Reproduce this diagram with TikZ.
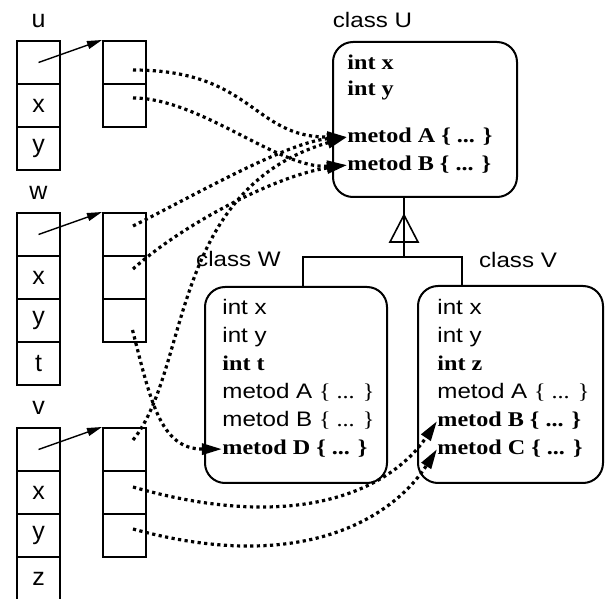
\documentclass[tikz,border=0pt]{standalone}
\usepackage{fontspec}
\setmainfont{Liberation Serif}[FakeStretch=1.15]
\setsansfont{Liberation Sans}[FakeStretch=1.15]
\newfontfamily\slotfont{Liberation Sans}
\usetikzlibrary{arrows.meta}
\newcommand{\bmem}[1]{{\rmfamily\bfseries #1}}
\newcommand{\bodydots}{{\rmfamily\{ ... \}}}
\begin{document}
\begin{tikzpicture}[x=0.5pt,y=-0.5pt,font=\sffamily\fontsize{10.5}{12}\selectfont,
  cell/.style={draw=black,line width=1pt,minimum width=21.5pt,minimum height=21.5pt,inner sep=0pt,font=\slotfont\fontsize{12.5}{15}\selectfont},
  var-name/.style={anchor=base,font=\slotfont\fontsize{12.5}{15}\selectfont},
  class-box/.style={draw=black,line width=1pt,rounded corners=10pt,inner sep=0pt},
  member/.style={anchor=base west,inner sep=0pt},
  pointer/.style={line width=0.7pt,-{Triangle[length=7.5pt,width=4pt]}},
  vlink/.style={line width=1.6pt,dash pattern=on 1.6pt off 1.7pt,-{Triangle[length=10pt,width=5.5pt]}},
  inherit/.style={line width=0.8pt}]
\useasboundingbox (0,0) rectangle (607,599);
\node[var-name] (u-name) at (38.5,28) {u};
\node[cell] (u-0) at (38.5,62.5) {};
\node[cell] (u-1) at (38.5,105.5) {x};
\node[cell] (u-2) at (38.5,148.5) {y};
\node[cell] (u-slot-0) at (124.5,62.5) {};
\node[cell] (u-slot-1) at (124.5,105.5) {};
\node[var-name] (w-name) at (38.5,200) {w};
\node[cell] (w-0) at (38.5,234.5) {};
\node[cell] (w-1) at (38.5,277.5) {x};
\node[cell] (w-2) at (38.5,320.5) {y};
\node[cell] (w-3) at (38.5,363.5) {t};
\node[cell] (w-slot-0) at (124.5,234.5) {};
\node[cell] (w-slot-1) at (124.5,277.5) {};
\node[cell] (w-slot-2) at (124.5,320.5) {};
\node[var-name] (v-name) at (38.5,415) {v};
\node[cell] (v-0) at (38.5,449.5) {};
\node[cell] (v-1) at (38.5,492.5) {x};
\node[cell] (v-2) at (38.5,535.5) {y};
\node[cell] (v-3) at (38.5,578.5) {z};
\node[cell] (v-slot-0) at (124.5,449.5) {};
\node[cell] (v-slot-1) at (124.5,492.5) {};
\node[cell] (v-slot-2) at (124.5,535.5) {};
\draw[pointer] (u-0.center) -- (u-slot-0.north west);
\draw[pointer] (w-0.center) -- (w-slot-0.north west);
\draw[pointer] (v-0.center) -- (v-slot-0.north west);
\node[anchor=base] (U-title) at (372.5,28) {class U};
\node[class-box,minimum width=92pt,minimum height=77.5pt] (U) at (425,119.5) {};
\node[member] (U-x) at (347,70) {\bmem{int x}};
\node[member] (U-y) at (347,96) {\bmem{int y}};
\node[member] (U-A) at (347,143) {\bmem{metod A \{ ... \}}};
\node[member] (U-B) at (347,171) {\bmem{metod B \{ ... \}}};
\node[anchor=base] (W-title) at (238.5,267) {class W};
\node[class-box,minimum width=91pt,minimum height=98pt] (W) at (296,385) {};
\node[member] (W-x) at (222,315) {int x};
\node[member] (W-y) at (222,343) {int y};
\node[member] (W-t) at (222,371) {\bmem{int t}};
\node[member] (W-A) at (222,399) {metod A \bodydots};
\node[member] (W-B) at (222,427) {metod B \bodydots};
\node[member] (W-D) at (222,455) {\bmem{metod D \{ ... \}}};
\node[anchor=base] (V-title) at (518,268) {class V};
\node[class-box,minimum width=92.5pt,minimum height=98.5pt] (V) at (510.5,384.5) {};
\node[member] (V-x) at (437,315) {int x};
\node[member] (V-y) at (437,343) {int y};
\node[member] (V-z) at (437,371) {\bmem{int z}};
\node[member] (V-A) at (437,399) {metod A \bodydots};
\node[member] (V-B) at (437,427) {\bmem{metod B \{ ... \}}};
\node[member] (V-C) at (437,455) {\bmem{metod C \{ ... \}}};
\coordinate (hub) at (404,257);
\coordinate (W-join) at (303,257);
\coordinate (V-join) at (462,257);
\draw[inherit] (hub |- U.south) -- (hub);
\draw[inherit] (W-join |- W.north) -- (W-join) -- (V-join) -- (V-join |- V.north);
\draw[inherit] (404,215) -- (418,242) -- (390,242) -- cycle;
\draw[vlink] ([shift={(8.5,7.5)}]u-slot-0.center) .. controls +(120,0) and +(-95,0) .. (U-A.west);
\draw[vlink] ([shift={(8.5,-7.5)}]u-slot-1.center) .. controls +(67,0) and +(-68,4) .. (U-B.west);
\draw[vlink] ([shift={(8.5,-8.5)}]w-slot-0.center) .. controls +(60,-30) and +(-60,5) .. (U-A.west);
\draw[vlink] ([shift={(8.5,-8.5)}]w-slot-1.center) .. controls +(50,-45) and +(-70,10) .. (U-B.west);
\draw[vlink] ([shift={(8,9.5)}]w-slot-2.center) .. controls +(18,70) and +(-62,0) .. (W-D.west);
\draw[vlink] ([shift={(8.5,-9.5)}]v-slot-0.center) .. controls +(57,-70) and +(-178,52) .. (U-A.west);
\draw[vlink] ([shift={(8.5,-5.5)}]v-slot-1.center) .. controls +(167,48) and +(-45,67) .. (V-B.west);
\draw[vlink] ([shift={(8.5,-6.5)}]v-slot-2.center) .. controls +(167,46) and +(-45,70) .. (V-C.west);
\end{tikzpicture}
\end{document}
